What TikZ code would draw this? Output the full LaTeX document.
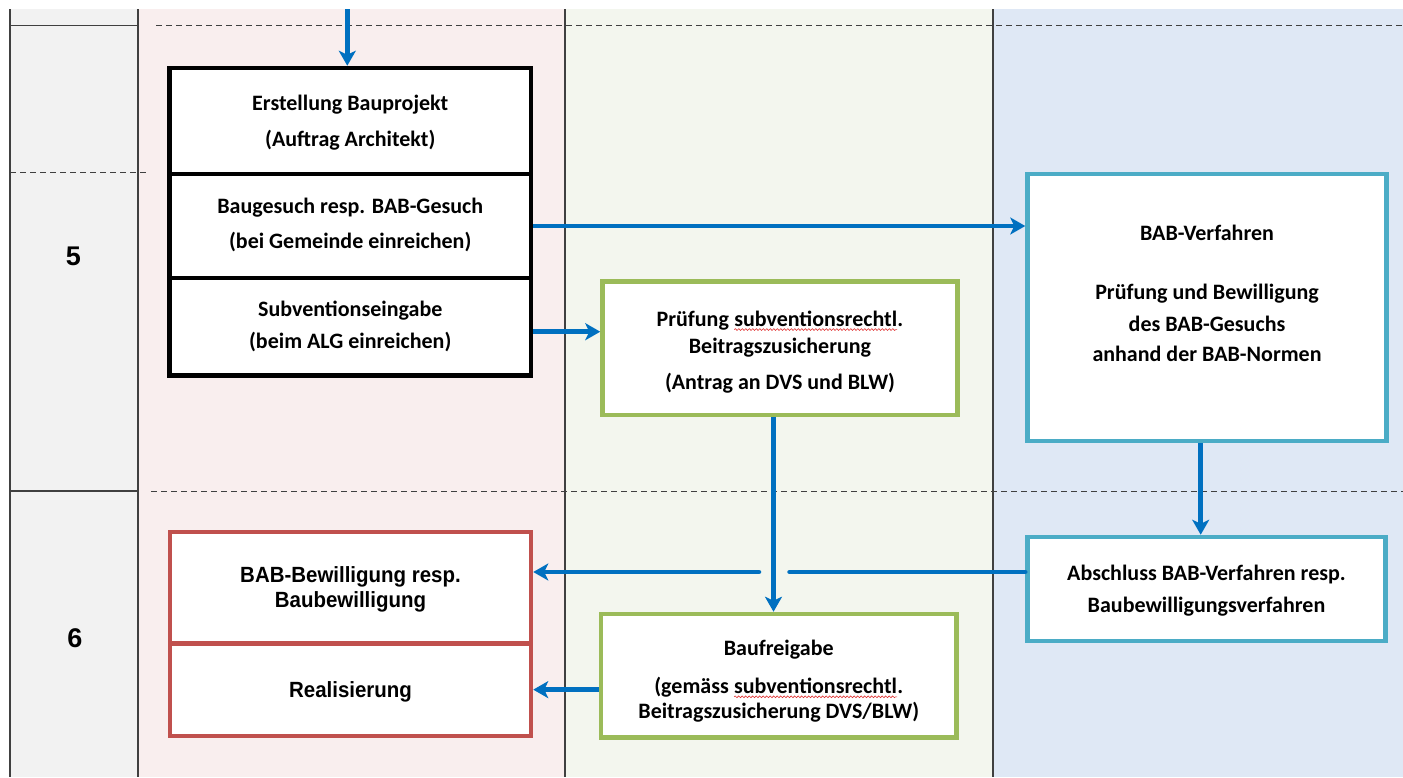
\documentclass[tikz,border=0pt]{standalone}
\usepackage{fontspec}
\setmainfont{Carlito}
\newfontfamily\arialn[FakeStretch=0.93]{Liberation Sans}
\newfontfamily\arialf{Liberation Sans}
\usetikzlibrary{arrows.meta,decorations.pathmorphing}
\definecolor{colgray}{HTML}{F2F2F2}
\definecolor{colpink}{HTML}{F9EEEE}
\definecolor{colgreen}{HTML}{F3F6EE}
\definecolor{colblue}{HTML}{DFE8F5}
\definecolor{boxgreen}{HTML}{9BBB59}
\definecolor{boxblue}{HTML}{4BACC6}
\definecolor{boxred}{HTML}{C0504D}
\definecolor{arrowblue}{HTML}{0070C0}
\definecolor{dashgray}{HTML}{404040}
\definecolor{wavered}{HTML}{E03030}
\newcommand\redwave[1]{\tikz[baseline=(w.base)]{\node[inner sep=0pt,outer sep=0pt,draw=none,fill=none] (w) {#1};\draw[wavered, line width=0.6pt, decorate, decoration={snake,amplitude=0.9pt,segment length=3.5pt}] ([yshift=-3pt]w.base west) -- ([yshift=-3pt]w.base east);}}
\begin{document}
\begin{tikzpicture}[x=1pt,y=-1pt,
  box/.style={draw, line width=4.5pt, fill=white, inner sep=0pt},
  blk/.style={box, draw=black},
  grn/.style={box, draw=boxgreen},
  blu/.style={box, draw=boxblue},
  rdb/.style={box, draw=boxred},
  txt/.style={align=center, inner sep=0pt, font=\fontsize{22}{24}\selectfont\bfseries},
  atxt/.style={align=center, inner sep=0pt, font=\arialn\fontsize{22}{24}\selectfont\bfseries},
  numtxt/.style={inner sep=0pt, anchor=base, font=\arialf\fontsize{27}{30}\selectfont\bfseries},
  flow/.style={draw=arrowblue, line width=4.5pt, -{Stealth[length=15pt,width=17pt,inset=4pt]}},
  seg/.style={draw=arrowblue, line width=4.5pt, line cap=round},
  dline/.style={draw=dashgray, line width=1.2pt, dash pattern=on 6pt off 4pt},
  gline/.style={draw=dashgray, line width=1.2pt}
]
\useasboundingbox (0,0) rectangle (1403,777);
\fill[white] (0,0) rectangle (1403,777);
% column backgrounds
\fill[colgray] (10,9) rectangle (138,777);
\fill[colpink] (138,9) rectangle (565,777);
\fill[colgreen] (565,9) rectangle (993,777);
\fill[colblue] (993,9) rectangle (1403,777);
% grid lines
\draw[gline] (10,9) -- (10,777);
\draw[gline] (138,9) -- (138,777);
\draw[gline] (565,9) -- (565,777);
\draw[gline] (993,9) -- (993,777);
\draw[gline] (10,25.5) -- (138,25.5);
\draw[gline] (10,491) -- (138,491);
\draw[dline] (156,25.5) -- (1403,25.5);
\draw[dline] (10,172.7) -- (148,172.7);
\draw[dline] (151,491.7) -- (1403,491.7);
% phase numbers
\node[numtxt] (n5) at (73.5,265.5) {5};
\node[numtxt] (n6) at (75,647) {6};
% black boxes
\node[blk, minimum width=361.5pt, minimum height=106pt] (s1) at (350.25,121) {};
\node[blk, minimum width=361.5pt, minimum height=104pt] (s2) at (350.25,226) {};
\node[blk, minimum width=361.5pt, minimum height=97.5pt] (s3) at (350.25,326.75) {};
\node[txt] (t1) at (350.25,123.2) {Erstellung Bauprojekt\strut\\[12pt](Auftrag Architekt)\strut};
\node[txt] (t2) at (350.25,226.2) {Baugesuch resp. BAB-Gesuch\strut\\[11pt](bei Gemeinde einreichen)\strut};
\node[txt] (t3) at (350.25,327.7) {Subventionseingabe\strut\\[8pt](beim ALG einreichen)\strut};
% green boxes
\node[grn, minimum width=355pt, minimum height=133.5pt] (g1) at (780,348.25) {};
\node[txt] (tg1) at (780,353.4) {Prüfung \redwave{subventionsrechtl}.\strut\\[2.7pt]Beitragszusicherung\strut\\[12.6pt](Antrag an DVS und BLW)\strut};
\node[grn, minimum width=355.5pt, minimum height=123.5pt] (g2) at (778.75,675.75) {};
\node[txt] (tg2) at (778.75,682.2) {Baufreigabe\strut\\[14pt](gemäss \redwave{subventionsrechtl}.\strut\\[0.4pt]Beitragszusicherung DVS/BLW)\strut};
% blue boxes
\node[blu, minimum width=359pt, minimum height=267pt] (b1) at (1207,307.5) {};
\node[txt] (tb1) at (1207,296.2) {BAB-Verfahren\strut\\[35.3pt]Prüfung und Bewilligung\strut\\[7.7pt]des BAB-Gesuchs\strut\\[6pt]anhand der BAB-Normen\strut};
\node[blu, minimum width=358pt, minimum height=104pt] (b2) at (1206.5,589) {};
\node[txt] (tb2) at (1206.5,591.6) {Abschluss BAB-Verfahren resp.\strut\\[7.7pt]Baubewilligungsverfahren\strut};
% red boxes
\node[rdb, minimum width=361pt, minimum height=111.3pt] (r1) at (350.5,587.65) {};
\node[rdb, minimum width=361pt, minimum height=92.7pt] (r2) at (350.5,689.65) {};
\node[atxt] (tr1) at (350.5,590.2) {BAB-Bewilligung resp.\strut\\[1pt]Baubewilligung\strut};
\node[atxt] (tr2) at (350.5,692.7) {Realisierung\strut};
% connectors
\coordinate (topin) at (347.3,9);
\draw[flow] (topin) -- (topin |- s1.north);
\draw[flow] (s2.east) -- (s2.east -| b1.west);
\coordinate (a3) at (0,331.7);
\draw[flow] (a3 -| s3.east) -- (a3 -| g1.west);
\coordinate (vx) at (773.5,0);
\draw[flow] (vx |- g1.south) -- (vx |- g2.north);
\coordinate (vb) at (1200.7,0);
\draw[flow] (vb |- b1.south) -- (vb |- b2.north);
\coordinate (jR) at (789.5,572);
\coordinate (jL) at (759,572);
\draw[seg] (jR -| b2.west) -- (jR);
\draw[flow, line cap=round] (jL) -- (jL -| r1.east);
\draw[flow] (g2.west |- r2.east) -- (r2.east);
\end{tikzpicture}
\end{document}
